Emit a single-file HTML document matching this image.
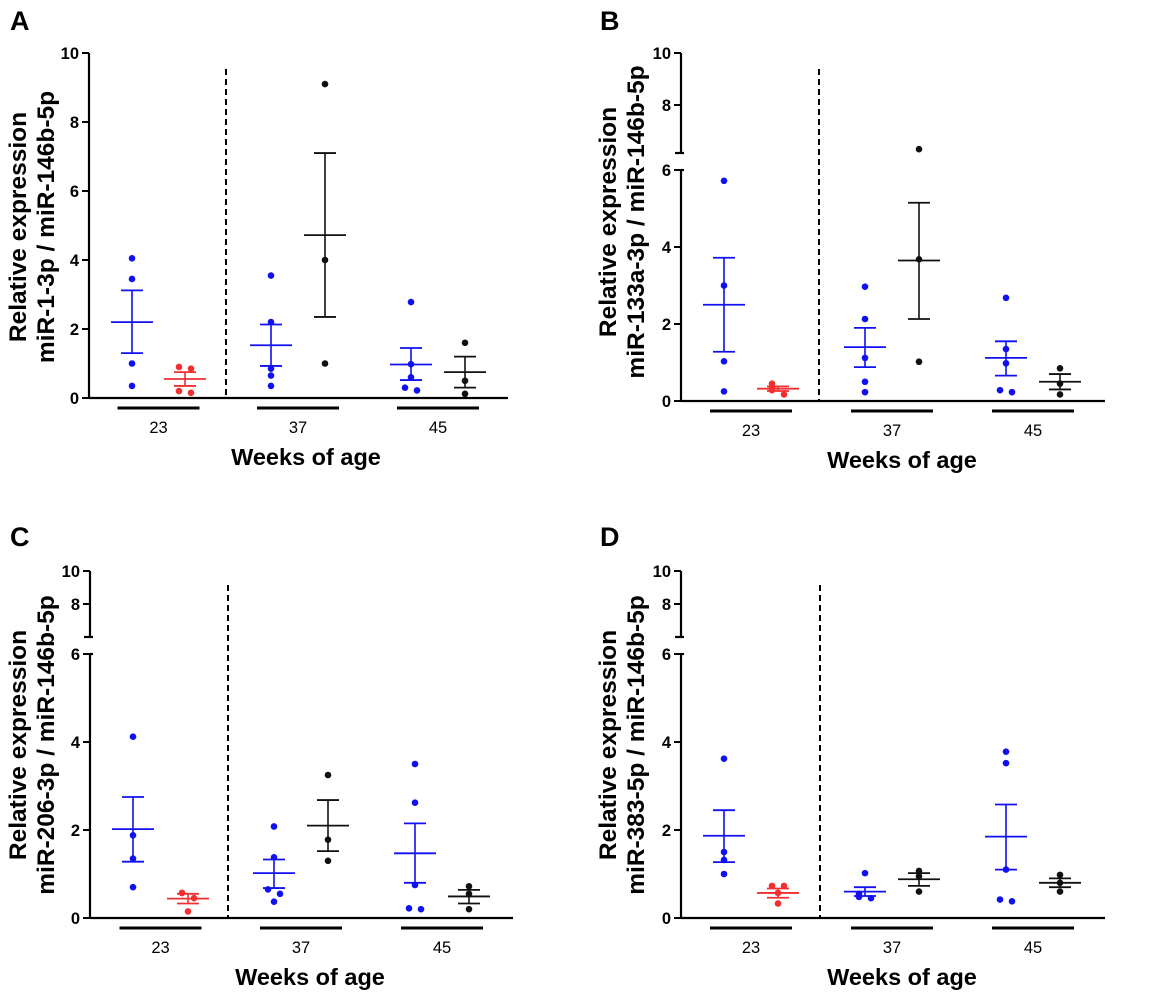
<!DOCTYPE html>
<html><head><meta charset="utf-8">
<style>
html,body{margin:0;padding:0;background:#fff;}
svg{display:block;font-family:"Liberation Sans",Arial,sans-serif;}
</style></head>
<body>
<svg id="fig" width="1169" height="999" viewBox="0 0 1169 999"></svg>
<script>
// Shared category data
const groupNames = ["23w-blue","23w-red","37w-blue","37w-black","45w-blue","45w-black"];
const groupColors = ["#1010f0","#f03030","#1010f0","#111","#1010f0","#111"];
const weekLabels = ["23","37","45"];

// Panel A: miR-1-3p
const aPoints = [[4.05,3.45,1.0,0.35],[0.9,0.85,0.2,0.15],[3.55,2.2,0.85,0.65,0.35],[9.1,4.0,1.0],[2.78,0.98,0.6,0.3,0.22],[1.6,0.5,0.12]];
const aMeans = [2.2,0.55,1.53,4.72,0.97,0.75];
const aHigh = [3.12,0.75,2.13,7.1,1.45,1.2];
const aLow = [1.3,0.35,0.93,2.35,0.52,0.3];
// Panel B: miR-133a-3p
const bPoints = [[5.72,3.0,1.03,0.25],[0.45,0.35,0.28,0.17],[2.97,2.13,1.12,0.5,0.23],[6.3,3.68,1.02],[2.68,1.35,0.98,0.28,0.23],[0.85,0.45,0.17]];
const bMeans = [2.5,0.32,1.4,3.65,1.12,0.5];
const bHigh = [3.72,0.38,1.9,5.15,1.55,0.7];
const bLow = [1.28,0.26,0.88,2.13,0.66,0.3];
// Panel C: miR-206-3p
const cPoints = [[4.12,1.88,1.35,0.7],[0.57,0.57,0.45,0.15],[2.08,1.38,0.65,0.55,0.37],[3.25,1.78,1.3],[3.5,2.62,0.75,0.22,0.2],[0.72,0.55,0.2]];
const cMeans = [2.02,0.44,1.02,2.1,1.47,0.49];
const cHigh = [2.75,0.55,1.33,2.68,2.15,0.64];
const cLow = [1.28,0.33,0.68,1.52,0.8,0.33];
// Panel D: miR-383-5p
const dPoints = [[3.62,1.5,1.32,1.0],[0.73,0.73,0.57,0.33],[1.02,0.55,0.5,0.48,0.45],[1.07,0.95,0.6],[3.78,3.52,1.1,0.42,0.38],[0.98,0.8,0.6]];
const dMeans = [1.87,0.57,0.6,0.88,1.85,0.8];
const dHigh = [2.45,0.67,0.7,1.02,2.58,0.9];
const dLow = [1.27,0.46,0.5,0.73,1.1,0.7];

const NS="http://www.w3.org/2000/svg";
const svg=document.getElementById('fig');
function mk(tag,attrs,parent,text){
  const e=document.createElementNS(NS,tag);
  for(const k in attrs)e.setAttribute(k,attrs[k]);
  if(text!==undefined)e.textContent=text;
  (parent||svg).appendChild(e);return e;
}

function panel(cfg){
  const g=mk('g',{});
  
  
  const ox=cfg.ox, ax=cfg.axisX;
  function y(v){
    if(!cfg.broken) return cfg.y0-(v/10)*(cfg.y0-cfg.y10);
    if(v<=6.05) return cfg.y0-(v/6)*(cfg.y0-cfg.y6);
    return cfg.y8-(v-8)/2*(cfg.y8-cfg.y10);
  }
  const xs=cfg.centers;
  const L=mk('text',{x:ox+10,y:cfg.letterY,'font-size':27,'font-weight':'bold',fill:'#000'},g,cfg.letter);
  
  
  if(!cfg.broken){
    const ya=mk('line',{x1:ax,y1:cfg.y10,x2:ax,y2:cfg.y0,stroke:'#000','stroke-width':2.2},g);
    
    
  } else {
    const ya=mk('line',{x1:ax,y1:cfg.y10,x2:ax,y2:cfg.ub,stroke:'#000','stroke-width':2.2},g);
    
    
    mk('line',{x1:ax-6,y1:cfg.ub,x2:ax+3,y2:cfg.ub,stroke:'#000','stroke-width':2.2},g);
    const yb=mk('line',{x1:ax,y1:cfg.y6,x2:ax,y2:cfg.y0,stroke:'#000','stroke-width':2.2},g);
    
    
    mk('line',{x1:ax,y1:cfg.y6,x2:ax+3,y2:cfg.y6,stroke:'#000','stroke-width':2.2},g);
  }
  const ticks=[0,2,4,6,8,10];
  ticks.forEach(t=>{
    const yy=y(t);
    mk('line',{x1:ax-7,y1:yy,x2:ax,y2:yy,stroke:'#000','stroke-width':2},g);
    const tl=mk('text',{x:ax-10,y:yy+6,'font-size':16.5,'font-weight':'bold','text-anchor':'end',fill:'#000'},g,String(t));
    
    
  });
  const xa=mk('line',{x1:ax,y1:cfg.y0,x2:cfg.axisEnd,y2:cfg.y0,stroke:'#000','stroke-width':2.2},g);
  
  
  const ds=mk('line',{x1:cfg.dashX,y1:cfg.dashTop,x2:cfg.dashX,y2:cfg.y0,stroke:'#000','stroke-width':2,'stroke-dasharray':'6,4'},g);
  
  
  weekLabels.forEach((w,i)=>{
    const c=(xs[2*i]+xs[2*i+1])/2;
    const ul=mk('line',{x1:c-41,y1:cfg.y0+10,x2:c+41,y2:cfg.y0+10,stroke:'#000','stroke-width':3},g);
    
    
    const wl=mk('text',{x:c,y:cfg.y0+35,'font-size':16.5,'text-anchor':'middle',fill:'#000'},g,w);
    
    
  });
  const xt=mk('text',{x:cfg.titleX,y:cfg.y0+67,'font-size':23.5,'font-weight':'bold','text-anchor':'middle',fill:'#000'},g,'Weeks of age');
  
  
  const yt=mk('text',{transform:`translate(${ox+26},${cfg.ytY}) rotate(-90)`,'font-size':24.5,'font-weight':'bold','text-anchor':'middle',fill:'#000'},g);
  
  
  mk('tspan',{x:0,y:0},yt,'Relative expression');
  mk('tspan',{x:0,y:28},yt,cfg.ylabel);
  groupNames.forEach((n,i)=>{
    const col=groupColors[i], cx=xs[i];
    const sg=mk('g',{},g);
    
    
    const pts=cfg.points[i];
    pts.forEach((v,j)=>{
      let dx=0;
      for(let k=0;k<pts.length;k++){ if(k!==j && Math.abs(pts[k]-v)<0.12){ dx = j<k ? -6 : 6; } }
      const p=mk('circle',{cx:cx+dx,cy:y(v),r:3.3,fill:col},sg);
      
      
    });
    const m=mk('line',{x1:cx-21,y1:y(cfg.means[i]),x2:cx+21,y2:y(cfg.means[i]),stroke:col,'stroke-width':1.8},sg);
    
    
    const e=mk('line',{x1:cx,y1:y(cfg.high[i]),x2:cx,y2:y(cfg.low[i]),stroke:col,'stroke-width':1.6},sg);
    
    
    [cfg.high[i],cfg.low[i]].forEach(v=>{
      mk('line',{x1:cx-11,y1:y(v),x2:cx+11,y2:y(v),stroke:col,'stroke-width':1.8},sg);
    });
  });
}

panel({letter:'A',ox:0,letterY:30,axisX:89,y0:398,y10:53,broken:false,axisEnd:508,dashX:226,dashTop:69,
  centers:[132,185,271,325,411,465],titleX:306,ytY:227,ylabel:'miR-1-3p / miR-146b-5p',
  points:aPoints,means:aMeans,high:aHigh,low:aLow});
panel({letter:'B',ox:590,letterY:30,axisX:681,y0:401,y10:53,y8:105,ub:153,y6:170,broken:true,axisEnd:1105,dashX:819,dashTop:69,
  centers:[724,778,865,919,1006,1060],titleX:902,ytY:222,ylabel:'miR-133a-3p / miR-146b-5p',
  points:bPoints,means:bMeans,high:bHigh,low:bLow});
panel({letter:'C',ox:0,letterY:546,axisX:90,y0:918,y10:571,y8:604,ub:637,y6:654,broken:true,axisEnd:513,dashX:228,dashTop:585,
  centers:[133,188,274,328,415,469],titleX:310,ytY:745,ylabel:'miR-206-3p / miR-146b-5p',
  points:cPoints,means:cMeans,high:cHigh,low:cLow});
panel({letter:'D',ox:590,letterY:546,axisX:681,y0:918,y10:571,y8:604,ub:637,y6:654,broken:true,axisEnd:1105,dashX:820,dashTop:585,
  centers:[724,778,865,919,1006,1060],titleX:902,ytY:745,ylabel:'miR-383-5p / miR-146b-5p',
  points:dPoints,means:dMeans,high:dHigh,low:dLow});
</script>
</body></html>
